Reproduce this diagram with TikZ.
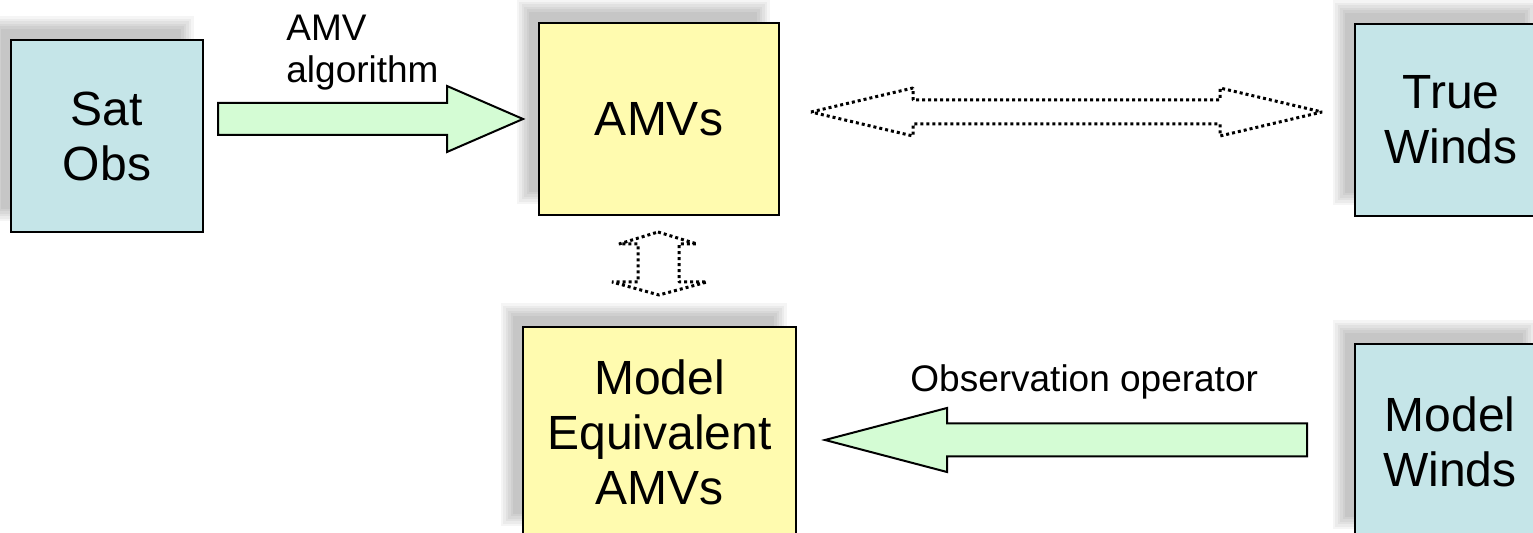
\documentclass[tikz,border=0pt]{standalone}
\usepackage{fontspec}
\setmainfont{Liberation Sans}
\usetikzlibrary{calc,backgrounds}
\definecolor{cyanbox}{RGB}{197,229,232}
\definecolor{yellowbox}{RGB}{255,251,175}
\definecolor{greenarrow}{RGB}{212,252,212}
\newcommand{\boxfont}{\fontsize{24}{27.5}\selectfont}
\newcommand{\labfont}{\fontsize{18.5}{21}\selectfont}
% soft shadow behind a named node, offset up-left
\newcommand{\softshadow}[1]{%
  \foreach \d in {-7,-4.5,-2,0.5,3,5.5}{%
    \fill[black, opacity=0.04]
      ($(#1.north west)+(-16-\d,-17-\d)$) rectangle ($(#1.south east)+(-16+\d,-17+\d)$);
  }%
}
\tikzset{
  box/.style={draw=black, line width=1pt, inner sep=0pt, align=center, font=\boxfont},
  cyan box/.style={box, fill=cyanbox},
  yellow box/.style={box, fill=yellowbox},
  green block/.style={draw=black, line width=1pt, fill=greenarrow, line join=miter},
  dotted block/.style={draw=black, line width=1.5pt, dash pattern=on 1.5pt off 1.5pt, fill=white, line join=bevel},
  lab/.style={inner sep=0pt, font=\labfont, align=left}
}
\begin{document}
\begin{tikzpicture}[x=0.5pt, y=-0.5pt]
\useasboundingbox (0,0) rectangle (1533,533);

% boxes
\node[cyan box, minimum width=96pt, minimum height=96pt] (sat) at (107,136) {Sat\\Obs};
\node[yellow box, minimum width=120pt, minimum height=96pt] (amv) at (659,119) {AMVs};
\node[cyan box, minimum width=96pt, minimum height=96pt] (true) at (1451,120) {True\\Winds};
\node[yellow box, minimum width=136.5pt, minimum height=105pt] (meq) at (659.5,432) {Model\\Equivalent\\AMVs};
\node[cyan box, minimum width=95pt, minimum height=98pt] (mw) at (1450,442) {Model\\Winds};

\begin{scope}[on background layer]
  \fill[white] (0,0) rectangle (1533,533);
  \softshadow{sat}
  \softshadow{amv}
  \softshadow{true}
  \softshadow{meq}
  \softshadow{mw}
\end{scope}

% AMV algorithm arrow (Sat Obs -> AMVs)
\coordinate (a1tip) at (523,119);
\draw[green block] (218,103) -- (447,103) -- (447,86) -- (a1tip) -- (447,152) -- (447,135) -- (218,135) -- cycle;
\node[lab, anchor=north west] (lab1) at (286,15) {AMV\\algorithm};

% dotted double arrow AMVs <-> True Winds
\coordinate (d1l) at (811,112);
\coordinate (d1r) at (1322,112);
\draw[dotted block] (d1l) -- (913,88) -- (913,100) -- (1220,100) -- (1220,88) -- (d1r)
  -- (1220,136) -- (1220,124) -- (913,124) -- (913,136) -- cycle;

% dotted vertical double arrow AMVs <-> Model Equivalent AMVs
\coordinate (d2t) at (658,232);
\coordinate (d2b) at (659,295);
\draw[dotted block] (d2t) -- (697,244) -- (679,244) -- (679,282) -- (707,282) -- (d2b)
  -- (612,282) -- (638,282) -- (638,244) -- (619,244) -- cycle;

% Observation operator arrow (Model Winds -> Model Equivalent AMVs)
\coordinate (a2tip) at (825,440);
\draw[green block] (a2tip) -- (947,408) -- (947,423.5) -- (1307,423.5) -- (1307,456.5) -- (947,456.5) -- (947,472) -- cycle;
\node[lab, anchor=base west] (lab2) at (910,392) {Observation operator};
\end{tikzpicture}
\end{document}
